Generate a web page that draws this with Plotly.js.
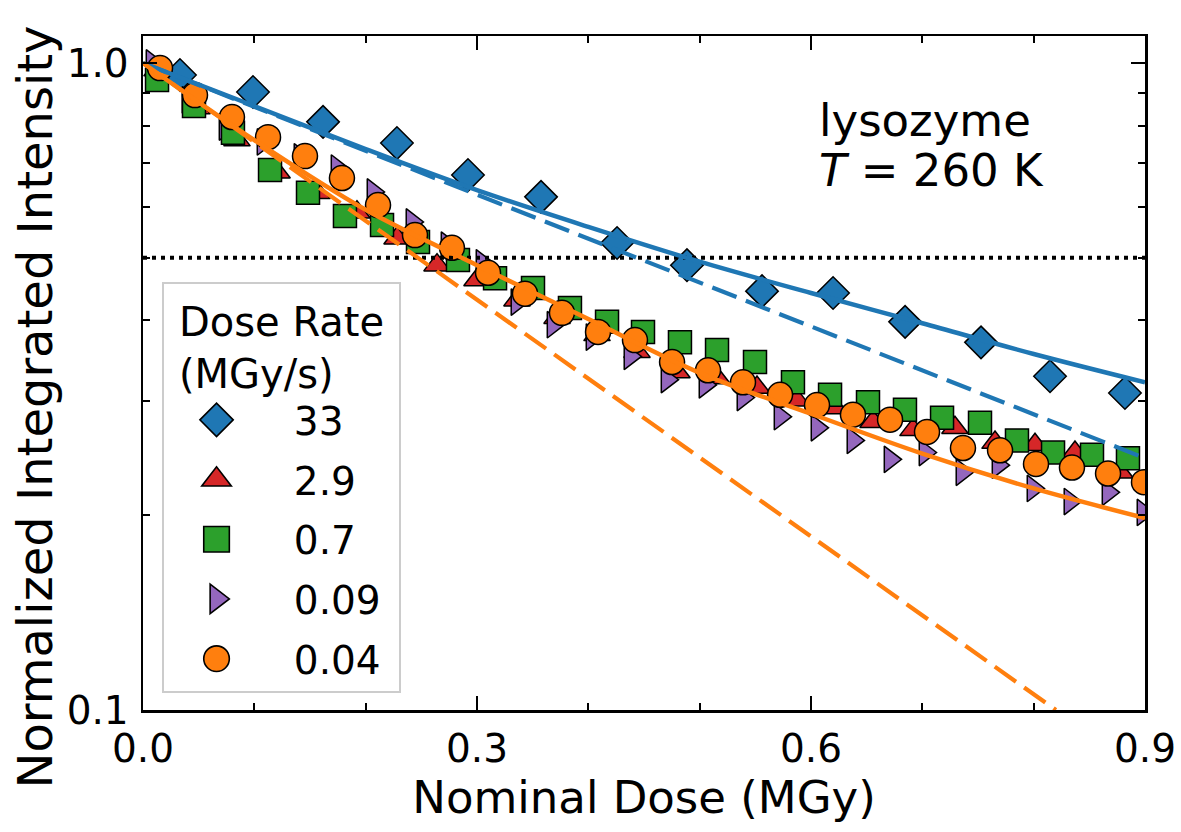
<!DOCTYPE html>
<html>
<head>
<meta charset="utf-8">
<script src="https://cdn.plot.ly/plotly-3.0.1.min.js"></script>
<style>html,body{margin:0;padding:0;background:#fff;}#chart{width:1181px;height:832px;}</style>
</head>
<body>
<div id="chart"></div>
<script>
// ---- data ----
const seriesNames = ["33", "2.9", "0.7", "0.09", "0.04"];

const dose33 = [0.0332, 0.0988, 0.1617, 0.2281, 0.2919, 0.3575, 0.4258, 0.4886, 0.5560, 0.6198, 0.6845, 0.7527, 0.8147, 0.8820];
const int33  = [0.958, 0.902, 0.811, 0.752, 0.671, 0.621, 0.527, 0.487, 0.444, 0.441, 0.398, 0.370, 0.328, 0.309];

const dose29 = [0.0126, 0.0485, 0.0844, 0.1204, 0.1563, 0.1922, 0.2282, 0.2641, 0.3000, 0.3359, 0.3719, 0.4078, 0.4437, 0.4796, 0.5156, 0.5515, 0.5874, 0.6216, 0.6557, 0.6916, 0.7293, 0.7653, 0.8012, 0.8371, 0.8776];
const int29  = [0.975, 0.852, 0.760, 0.678, 0.630, 0.588, 0.536, 0.487, 0.462, 0.430, 0.404, 0.380, 0.358, 0.333, 0.326, 0.315, 0.301, 0.293, 0.279, 0.271, 0.273, 0.259, 0.257, 0.250, 0.233];

const dose07 = [0.0126, 0.0458, 0.0808, 0.1141, 0.1482, 0.1814, 0.2147, 0.2470, 0.2829, 0.3162, 0.3503, 0.3835, 0.4168, 0.4491, 0.4823, 0.5156, 0.5497, 0.5838, 0.6171, 0.6512, 0.6844, 0.7177, 0.7518, 0.7850, 0.8174, 0.8524, 0.8847];
const int07  = [0.941, 0.858, 0.780, 0.683, 0.630, 0.580, 0.562, 0.529, 0.496, 0.465, 0.449, 0.418, 0.398, 0.384, 0.370, 0.360, 0.345, 0.321, 0.307, 0.299, 0.291, 0.283, 0.278, 0.261, 0.250, 0.248, 0.245];

const dose009 = [0.0081, 0.0404, 0.0737, 0.1078, 0.1410, 0.1743, 0.2066, 0.2416, 0.2731, 0.3045, 0.3359, 0.3683, 0.4033, 0.4374, 0.4707, 0.5048, 0.5389, 0.5722, 0.6054, 0.6377, 0.6710, 0.7024, 0.7356, 0.7680, 0.7994, 0.8326, 0.8668, 0.8982];
const int009  = [1.000, 0.877, 0.796, 0.755, 0.716, 0.688, 0.632, 0.568, 0.523, 0.491, 0.427, 0.394, 0.377, 0.352, 0.324, 0.318, 0.304, 0.284, 0.273, 0.261, 0.244, 0.250, 0.233, 0.239, 0.220, 0.210, 0.217, 0.202];

const dose004 = [0.0153, 0.0467, 0.0799, 0.1123, 0.1455, 0.1787, 0.2111, 0.2443, 0.2775, 0.3099, 0.3431, 0.3763, 0.4087, 0.4419, 0.4752, 0.5075, 0.5389, 0.5722, 0.6054, 0.6377, 0.6710, 0.7042, 0.7365, 0.7698, 0.8021, 0.8344, 0.8668, 0.8991];
const int004  = [0.982, 0.892, 0.825, 0.768, 0.718, 0.664, 0.603, 0.542, 0.518, 0.474, 0.440, 0.411, 0.384, 0.373, 0.345, 0.335, 0.321, 0.307, 0.296, 0.286, 0.281, 0.269, 0.254, 0.252, 0.240, 0.237, 0.232, 0.225];

// fit curves
const fitDose      = [0.0, 0.1, 0.2, 0.3, 0.4, 0.5, 0.6, 0.7, 0.8, 0.9];
const fitSolid33   = [1.000, 0.858, 0.736, 0.636, 0.558, 0.493, 0.441, 0.396, 0.355, 0.321];
const fitSolid004  = [1.000, 0.760, 0.593, 0.487, 0.402, 0.332, 0.287, 0.249, 0.220, 0.198];
const dash33Dose   = [0.0, 0.9];
const dash33Int    = [1.0, 0.245];
const dash004Dose  = [0.0, 0.82];
const dash004Int   = [1.0, 0.1];
const halfDose     = [0.0, 0.9];
const halfInt      = [0.5, 0.5];

const xTickVals = [0.0, 0.3, 0.6, 0.9];
const xTickText = ["0.0", "0.3", "0.6", "0.9"];
const yTickVals = [0.1, 1.0];
const yTickText = ["0.1", "1.0"];
const yMinorVals = [0.2, 0.3, 0.4, 0.5, 0.6, 0.7, 0.8, 0.9];

// ---- styling ----
const C = {blue:'#1f77b4', orange:'#ff7f0e', green:'#2ca02c', red:'#d62728', purple:'#9467bd'};
const FONT = 'DejaVu Sans, sans-serif';
const edge = {color:'#000', width:1.5};
const NB = '\u00A0\u00A0';

function pts(x, y, name, sym, size, color, rank) {
  return {type:'scatter', mode:'markers', x:x, y:y, name:NB + name + '\u00A0', legendgroup:'g' + rank, legendrank:rank,
          marker:{symbol:sym, size:size, color:color, line:edge}, cliponaxis:true};
}
function ln(x, y, color, dash, width, shape) {
  return {type:'scatter', mode:'lines', x:x, y:y, showlegend:false, legendgroup:'lines',
          line:{color:color, dash:dash, width:width, shape:shape||'linear'}};
}

const traces = [
  pts(dose33, int33, seriesNames[0], 'diamond', 25, C.blue, 1),
  pts(dose29, int29, seriesNames[1], 'triangle-up', 23, C.red, 2),
  pts(dose009, int009, seriesNames[3], 'triangle-right', 23, C.purple, 4),
  pts(dose07, int07, seriesNames[2], 'square', 23, C.green, 3),
  pts(dose004, int004, seriesNames[4], 'circle', 25, C.orange, 5),
  ln(halfDose, halfInt, '#000', '4px,5px', 4),
  ln(dash33Dose, dash33Int, C.blue, '26px,10px', 4.2),
  ln(dash004Dose, dash004Int, C.orange, '26px,10px', 4.2),
  ln(fitDose, fitSolid33, C.blue, 'solid', 4.5, 'spline'),
  ln(fitDose, fitSolid004, C.orange, 'solid', 4.5, 'spline')
];

const axisCommon = {showline:true, linecolor:'#000', linewidth:2.5, mirror:'ticks', ticks:'inside',
  tickcolor:'#000', tickwidth:2.5, ticklen:14, showgrid:false, zeroline:false,
  tickfont:{family:FONT, size:39, color:'#000'}};

const layout = {
  width:1181, height:832,
  margin:{l:143, r:36, t:36, b:122, pad:0},
  paper_bgcolor:'#fff', plot_bgcolor:'#fff',
  font:{family:FONT, color:'#000'},
  showlegend:true,
  xaxis: Object.assign({}, axisCommon, {
    range:[0, 0.9], tickmode:'array', tickvals:xTickVals, ticktext:xTickText,
    ticklabelstandoff:3,
    minor:{dtick:0.1, tick0:0, ticks:'inside', ticklen:7, tickwidth:2, tickcolor:'#000', showgrid:false},
    title:{text:'Nominal Dose (MGy)', font:{family:FONT, size:45, color:'#000'}, standoff:0}
  }),
  yaxis: Object.assign({}, axisCommon, {
    type:'log', range:[-1, 0.0417], tickmode:'array', tickvals:yTickVals, ticktext:yTickText,
    ticklabelstandoff:4,
    minor:{tickmode:'array', tickvals:yMinorVals, ticks:'inside', ticklen:7, tickwidth:2, tickcolor:'#000', showgrid:false}
  }),
  legend:{x:0.019, y:0.635, xanchor:'left', yanchor:'top',
    bgcolor:'rgba(255,255,255,0.85)', bordercolor:'#cccccc', borderwidth:2,
    font:{family:FONT, size:39, color:'#000'},
    title:{text:'Dose Rate<br>(MGy/s)', side:'top center', font:{family:FONT, size:40, color:'#000'}},
    tracegroupgap:6, itemwidth:95, traceorder:'grouped'},
  annotations:[
    {xref:'paper', yref:'paper', x:-0.108, y:0.45, xanchor:'center', yanchor:'middle', showarrow:false,
     textangle:-90, text:'Normalized Integrated Intensity', font:{family:FONT, size:48, color:'#000'}},
    {xref:'paper', yref:'paper', x:0.673, y:0.875, xanchor:'left', yanchor:'middle', showarrow:false,
     text:'lysozyme', font:{family:FONT, size:45, color:'#000'}},
    {xref:'paper', yref:'paper', x:0.673, y:0.801, xanchor:'left', yanchor:'middle', showarrow:false,
     text:'<i>T</i> = 260 K', font:{family:FONT, size:45, color:'#000'}}
  ]
};

Plotly.newPlot('chart', traces, layout, {staticPlot:true, displayModeBar:false}).then(function(){
  document.querySelectorAll('.legend .legendpoints path.scatterpts').forEach(function(p){
    const t = p.getAttribute('transform') || '';
    p.setAttribute('transform', t + ' scale(1.6)');
    p.style.strokeWidth = '1px';
  });
});
</script>
</body>
</html>
